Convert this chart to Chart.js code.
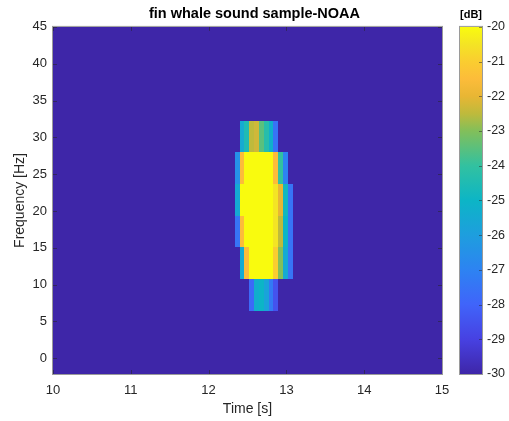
<!DOCTYPE html>
<html>
<head>
<meta charset="utf-8">
<script src="https://cdn.jsdelivr.net/npm/chart.js@4.4.1/dist/chart.umd.min.js"></script>
<style>
  html, body { margin: 0; padding: 0; background: #fff; }
  canvas { display: block; }
</style>
</head>
<body>
<canvas id="chart" width="509" height="421"></canvas>
<script>
// time bin centres [s]
var times = [12.367, 12.429, 12.491, 12.553, 12.615, 12.677, 12.740, 12.802, 12.864, 12.926, 12.988, 13.050];
// frequency bin centres [Hz] of the rows that carry energy
var freqs = [8.6, 12.9, 17.2, 21.5, 25.8, 30.1];
// power [dB], one row per frequency above, one value per time bin
var power = [
  [-30, -30, -30, -27.8, -25.3, -25, -25.8, -27.3, -28.5, -30, -30, -30],
  [-30, -25.5, -21.5, -20, -20, -20, -20, -20, -21, -23, -25.5, -27.5],
  [-27.5, -21.5, -20, -20, -20, -20, -20, -20, -20.5, -22.5, -25, -27.5],
  [-25.5, -20, -20, -20, -20, -20, -20, -20, -20.5, -22, -24.8, -27.5],
  [-26.5, -21.5, -20, -20, -20, -20, -20, -20, -21.5, -24, -27, -30],
  [-30, -25.5, -24.5, -22.5, -22.3, -23.5, -24.3, -25.2, -27.5, -30, -30, -30]
];
var xTicks = [10, 11, 12, 13, 14, 15];
var yTicks = [0, 5, 10, 15, 20, 25, 30, 35, 40, 45];
var cbTicks = [-30, -29, -28, -27, -26, -25, -24, -23, -22, -21, -20];

var dt = 0.0621;   // time bin width
var df = 4.3;      // frequency bin height
var cMin = -30, cMax = -20;

var FONT = "'Liberation Sans', Arial, sans-serif";
var TXT = '#262626';

var stops = [
  [0.00, [62, 38, 168]],
  [0.10, [71, 65, 226]],
  [0.20, [64, 100, 250]],
  [0.30, [45, 131, 242]],
  [0.40, [30, 158, 222]],
  [0.50, [12, 181, 198]],
  [0.60, [50, 193, 160]],
  [0.70, [130, 191, 90]],
  [0.75, [190, 186, 60]],
  [0.80, [232, 182, 52]],
  [0.85, [252, 188, 58]],
  [0.90, [250, 205, 48]],
  [0.95, [244, 228, 36]],
  [1.00, [249, 251, 14]]
];

function rgb(c) { return 'rgb(' + c[0] + ',' + c[1] + ',' + c[2] + ')'; }

function parula(t) {
  t = Math.max(0, Math.min(1, t));
  for (var i = 1; i < stops.length; i++) {
    if (t <= stops[i][0]) {
      var a = stops[i - 1], b = stops[i];
      var f = (t - a[0]) / (b[0] - a[0]);
      return rgb([0, 1, 2].map(function (k) { return Math.round(a[1][k] + f * (b[1][k] - a[1][k])); }));
    }
  }
  return rgb(stops[stops.length - 1][1]);
}

var cells = [];
for (var i = 0; i < freqs.length; i++) {
  for (var j = 0; j < times.length; j++) {
    cells.push({ x: times[j], y: freqs[i], v: power[i][j] });
  }
}

var heatmap = {
  id: 'heatmap',
  beforeDatasetsDraw: function (chart) {
    var ctx = chart.ctx, a = chart.chartArea;
    var sx = chart.scales.x, sy = chart.scales.y;
    ctx.save();
    ctx.beginPath();
    ctx.rect(a.left, a.top, a.right - a.left, a.bottom - a.top);
    ctx.clip();
    ctx.fillStyle = parula(0);
    ctx.fillRect(a.left, a.top, a.right - a.left, a.bottom - a.top);
    chart.data.datasets[0].data.forEach(function (c) {
      var x0 = Math.round(sx.getPixelForValue(c.x - dt / 2));
      var x1 = Math.round(sx.getPixelForValue(c.x + dt / 2));
      var y0 = Math.round(sy.getPixelForValue(c.y + df / 2));
      var y1 = Math.round(sy.getPixelForValue(c.y - df / 2));
      ctx.fillStyle = parula((c.v - cMin) / (cMax - cMin));
      ctx.fillRect(x0, y0, x1 - x0, y1 - y0);
    });
    ctx.restore();
  },
  afterDatasetsDraw: function (chart) {
    var ctx = chart.ctx, a = chart.chartArea;
    var sx = chart.scales.x, sy = chart.scales.y, sc = chart.scales.cb;
    ctx.save();
    // inward tick marks
    ctx.strokeStyle = 'rgba(38,38,38,0.55)';
    ctx.lineWidth = 1;
    ctx.beginPath();
    xTicks.forEach(function (v) {
      var px = Math.round(sx.getPixelForValue(v)) + 0.5;
      ctx.moveTo(px, a.bottom); ctx.lineTo(px, a.bottom - 4);
      ctx.moveTo(px, a.top); ctx.lineTo(px, a.top + 4);
    });
    yTicks.forEach(function (v) {
      var py = Math.round(sy.getPixelForValue(v)) + 0.5;
      ctx.moveTo(a.left, py); ctx.lineTo(a.left + 4, py);
      ctx.moveTo(a.right, py); ctx.lineTo(a.right - 4, py);
    });
    ctx.stroke();
    // axes box
    ctx.strokeStyle = '#9a9a9a';
    ctx.strokeRect(a.left - 0.5, a.top - 0.5, a.right - a.left + 1, a.bottom - a.top + 1);

    // colour bar
    var cx0 = 460, cx1 = 482;
    var cTop = sc.getPixelForValue(cMax), cBot = sc.getPixelForValue(cMin);
    var g = ctx.createLinearGradient(0, cBot, 0, cTop);
    stops.forEach(function (s) { g.addColorStop(s[0], rgb(s[1])); });
    ctx.fillStyle = g;
    ctx.fillRect(cx0, cTop, cx1 - cx0, cBot - cTop);
    ctx.strokeStyle = 'rgba(38,38,38,0.5)';
    ctx.beginPath();
    cbTicks.forEach(function (v) {
      var py = Math.round(sc.getPixelForValue(v)) + 0.5;
      ctx.moveTo(cx1, py); ctx.lineTo(cx1 - 3, py);
    });
    ctx.stroke();
    ctx.strokeStyle = '#9a9a9a';
    ctx.strokeRect(cx0 - 0.5, cTop - 0.5, cx1 - cx0 + 1, cBot - cTop + 1);

    ctx.fillStyle = '#000';
    ctx.font = 'bold 11px ' + FONT;
    ctx.textAlign = 'center';
    ctx.textBaseline = 'middle';
    ctx.fillText('[dB]', 471, 15);
    ctx.restore();
  }
};

function setTicks(list) {
  return function (scale) { scale.ticks = list.map(function (v) { return { value: v }; }); };
}

new Chart(document.getElementById('chart'), {
  type: 'scatter',
  data: {
    datasets: [{ data: cells, pointRadius: 0, pointHoverRadius: 0 }]
  },
  plugins: [heatmap],
  options: {
    responsive: false,
    animation: false,
    events: [],
    layout: { padding: 0 },
    plugins: {
      legend: { display: false },
      tooltip: { enabled: false },
      title: {
        display: true,
        text: 'fin whale sound sample-NOAA',
        color: '#000',
        font: { family: FONT, size: 14.5, weight: 'bold' },
        padding: { top: 5, bottom: 4.5 }
      }
    },
    scales: {
      x: {
        type: 'linear',
        position: 'bottom',
        min: 10,
        max: 15,
        afterBuildTicks: setTicks(xTicks),
        afterFit: function (s) { s.height = 47; },
        grid: { display: false, drawTicks: false },
        border: { display: false },
        ticks: { color: TXT, font: { family: FONT, size: 13 }, padding: 9, maxRotation: 0 },
        title: { display: true, text: 'Time [s]', color: TXT, font: { family: FONT, size: 14 }, padding: { top: 0, bottom: 3.5 } }
      },
      y: {
        type: 'linear',
        position: 'left',
        min: -df / 2,
        max: 45,
        afterBuildTicks: setTicks(yTicks),
        afterFit: function (s) { s.width = 53; s.paddingTop = 8; s.paddingBottom = 8; },
        grid: { display: false, drawTicks: false },
        border: { display: false },
        ticks: { color: TXT, font: { family: FONT, size: 13 }, padding: 6 },
        title: { display: true, text: 'Frequency [Hz]', color: TXT, font: { family: FONT, size: 14 }, padding: { top: 11.5, bottom: 0 } }
      },
      cb: {
        type: 'linear',
        position: 'right',
        min: cMin,
        max: cMax,
        afterBuildTicks: setTicks(cbTicks),
        afterFit: function (s) { s.width = 67; s.paddingTop = 8; s.paddingBottom = 8; },
        grid: { display: false, drawTicks: false },
        border: { display: false },
        ticks: { color: TXT, font: { family: FONT, size: 12.5 }, padding: 45 }
      }
    }
  }
});
</script>
</body>
</html>
